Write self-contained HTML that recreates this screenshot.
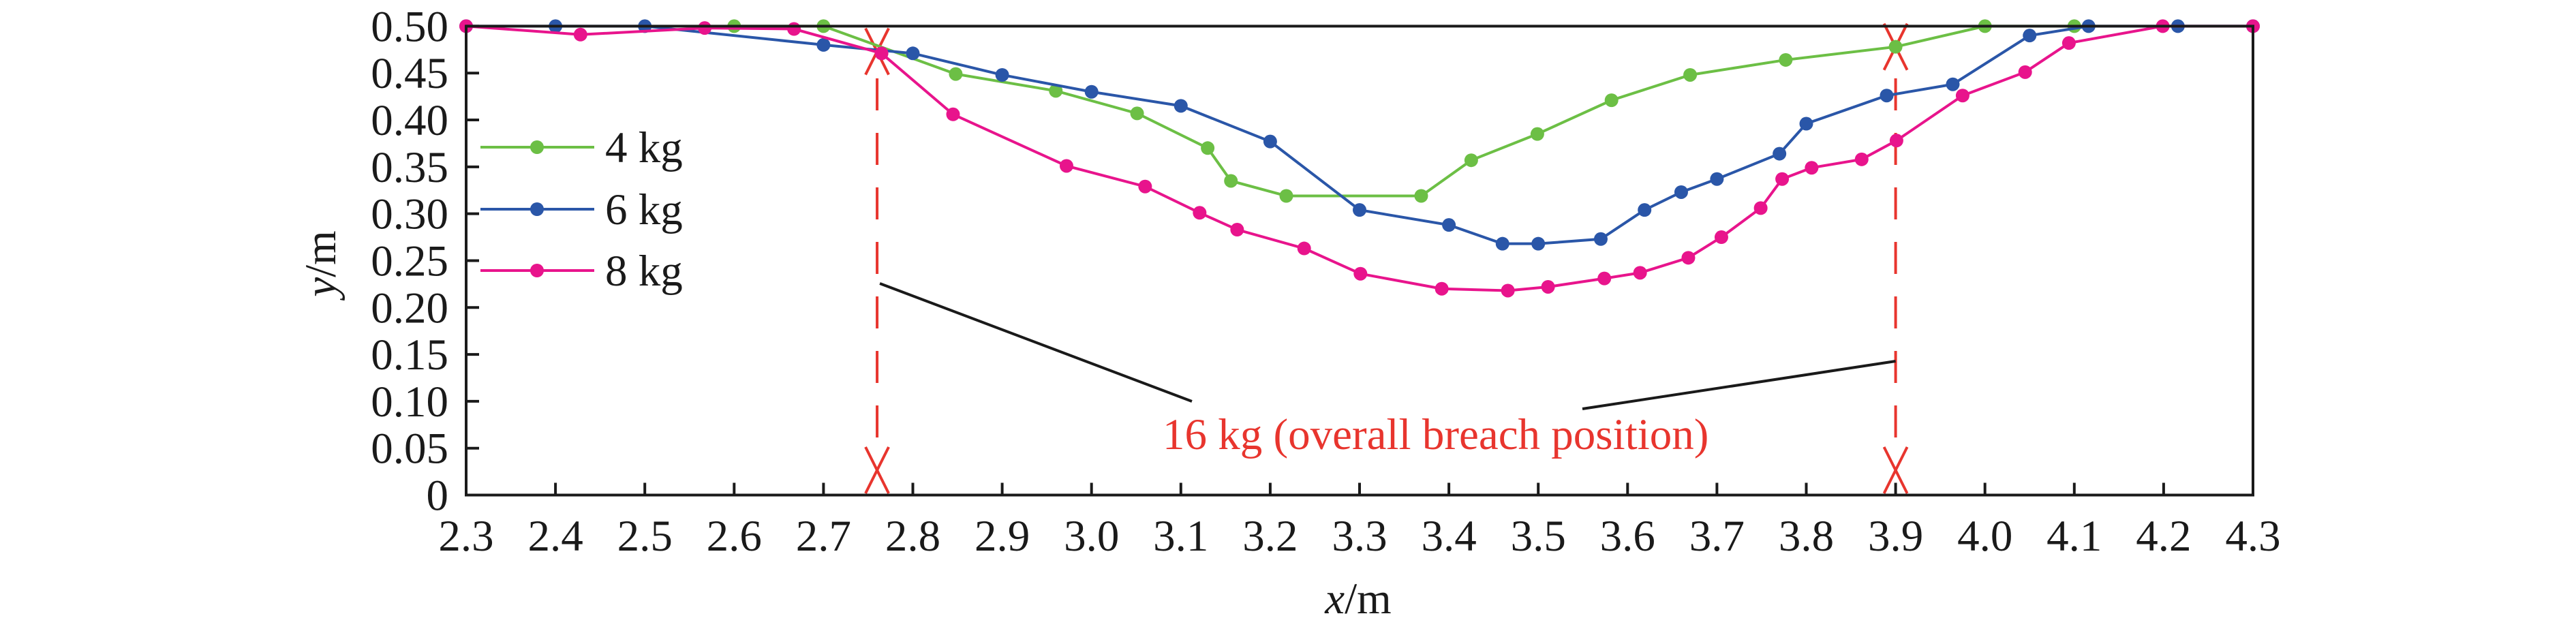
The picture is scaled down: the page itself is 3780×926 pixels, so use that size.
<!DOCTYPE html>
<html><head><meta charset="utf-8"><style>
html,body{margin:0;padding:0;background:#fff;}
svg{display:block;font-family:"Liberation Serif",serif;}
</style></head><body>
<svg id="chart" width="3780" height="926" viewBox="0 0 3780 926" xmlns="http://www.w3.org/2000/svg">
<g id="grid"></g>
<g id="series"></g>
<g id="axes"></g>
</svg>
<script>
const xTicks = [2.3,2.4,2.5,2.6,2.7,2.8,2.9,3.0,3.1,3.2,3.3,3.4,3.5,3.6,3.7,3.8,3.9,4.0,4.1,4.2,4.3];
const yTicks = [0,0.05,0.10,0.15,0.20,0.25,0.30,0.35,0.40,0.45,0.50];
const yTickLabels = ["0","0.05","0.10","0.15","0.20","0.25","0.30","0.35","0.40","0.45","0.50"];
const seriesNames = ["4 kg","6 kg","8 kg"];
const x4 = [2.6,2.7,2.848,2.960,3.051,3.130,3.156,3.218,3.369,3.425,3.499,3.582,3.670,3.777,3.900,4.0,4.1];
const y4 = [0.5,0.5,0.449,0.431,0.407,0.370,0.335,0.319,0.319,0.357,0.385,0.421,0.448,0.464,0.478,0.5,0.5];
const x6 = [2.3,2.4,2.5,2.7,2.8,2.9,3.0,3.1,3.2,3.3,3.4,3.46,3.5,3.57,3.619,3.66,3.70,3.77,3.80,3.89,3.964,4.05,4.116,4.216,4.3];
const y6 = [0.5,0.5,0.5,0.480,0.471,0.448,0.430,0.415,0.377,0.304,0.288,0.268,0.268,0.273,0.304,0.323,0.337,0.364,0.396,0.426,0.438,0.490,0.5,0.5,0.5];
const x8 = [2.3,2.428,2.567,2.667,2.765,2.845,2.972,3.060,3.121,3.163,3.238,3.301,3.392,3.466,3.511,3.574,3.614,3.668,3.705,3.749,3.773,3.806,3.862,3.901,3.975,4.045,4.094,4.199,4.3];
const y8 = [0.5,0.491,0.498,0.497,0.471,0.406,0.351,0.329,0.301,0.283,0.263,0.236,0.220,0.218,0.222,0.231,0.237,0.253,0.275,0.306,0.337,0.349,0.358,0.378,0.426,0.451,0.482,0.5,0.5];
const breachX = [2.76,3.9];
const breachTopY = [0.473,0.478];
const annotationText = "16 kg (overall breach position)";

const L=684,R=3306,T=38.4,B=726.5;
const sx=v=>L+(v-2.3)/2.0*(R-L);
const sy=v=>B-(v/0.5)*(B-T);
const NS="http://www.w3.org/2000/svg";
function mk(tag,attrs,parent){const e=document.createElementNS(NS,tag);for(const k in attrs)e.setAttribute(k,attrs[k]);parent.appendChild(e);return e;}
const axes=document.getElementById('axes'),series=document.getElementById('series'),grid=document.getElementById('grid');

// breach lines
breachX.forEach((bx,i)=>{
  const X=sx(bx);
  const d=mk('line',{x1:X,y1:115,x2:X,y2:656,stroke:'#e8352e','stroke-width':4,'stroke-dasharray':'47 33'},grid);
  
  
  [sy(breachTopY[i]),690].forEach((cy,j)=>{
    const g=mk('g',{stroke:'#e8352e','stroke-width':4},grid);
    
    
    mk('line',{x1:X-17,y1:cy-34,x2:X+17,y2:cy+34},g);
    mk('line',{x1:X+17,y1:cy-34,x2:X-17,y2:cy+34},g);
  });
});
// annotation leader lines
const a1=mk('line',{x1:sx(breachX[0])+4,y1:416,x2:1749,y2:589,stroke:'#1a1a1a','stroke-width':4},grid);


const a2=mk('line',{x1:2322,y1:600,x2:sx(breachX[1]),y2:530,stroke:'#1a1a1a','stroke-width':4},grid);


const at=mk('text',{x:1706,y:659,fill:'#e8352e','font-size':65},grid);
at.textContent=annotationText;



const colors=['#6cbf45','#2a56a8','#e8148c'];
const data=[[x4,y4],[x6,y6],[x8,y8]];
data.forEach(([xs,ys],k)=>{
  const g=mk('g',{},series);
   
  
  const pts=xs.map((v,i)=>sx(v)+','+sy(ys[i])).join(' ');
  const pl=mk('polyline',{points:pts,fill:'none',stroke:colors[k],'stroke-width':4},g);
  
  
  xs.forEach((v,i)=>{
    const c=mk('circle',{cx:sx(v),cy:sy(ys[i]),r:10,fill:colors[k]},g);
    
    
  });
  // legend
  const ly=[216,307,397][k];
  const lg=mk('g',{},series);
  
  
  mk('line',{x1:705,y1:ly,x2:872,y2:ly,stroke:colors[k],'stroke-width':4},lg);
  mk('circle',{cx:788,cy:ly,r:10,fill:colors[k]},lg);
  const lt=mk('text',{x:888,y:ly+22,'font-size':65,fill:'#1a1a1a'},lg);
  lt.textContent=seriesNames[k];
});

// axes box
const box=mk('rect',{x:L,y:T,width:R-L,height:B-T,fill:'none',stroke:'#1a1a1a','stroke-width':4},axes);


xTicks.forEach(v=>{
  const X=sx(v);
  const t=mk('line',{x1:X,y1:B,x2:X,y2:B-18,stroke:'#1a1a1a','stroke-width':4},axes);
  
  
  const l=mk('text',{x:X,y:808,'font-size':65,'text-anchor':'middle',fill:'#1a1a1a'},axes);
  l.textContent=v.toFixed(1);
  
  
});
yTicks.forEach((v,i)=>{
  const Y=sy(v);
  const t=mk('line',{x1:L,y1:Y,x2:L+19,y2:Y,stroke:'#1a1a1a','stroke-width':4},axes);
  
  
  const l=mk('text',{x:658,y:Y+22,'font-size':65,'text-anchor':'end',fill:'#1a1a1a'},axes);
  l.textContent=yTickLabels[i];
  
  
});
const xt=mk('text',{x:1993,y:900,'font-size':65,'text-anchor':'middle',fill:'#1a1a1a'},axes);
xt.innerHTML='<tspan font-style="italic">x</tspan>/m';


const yt=mk('text',{x:0,y:0,'font-size':65,'text-anchor':'middle',fill:'#1a1a1a',transform:'translate(492,387) rotate(-90)'},axes);
yt.innerHTML='<tspan font-style="italic">y</tspan>/m';


</script>
</body></html>
